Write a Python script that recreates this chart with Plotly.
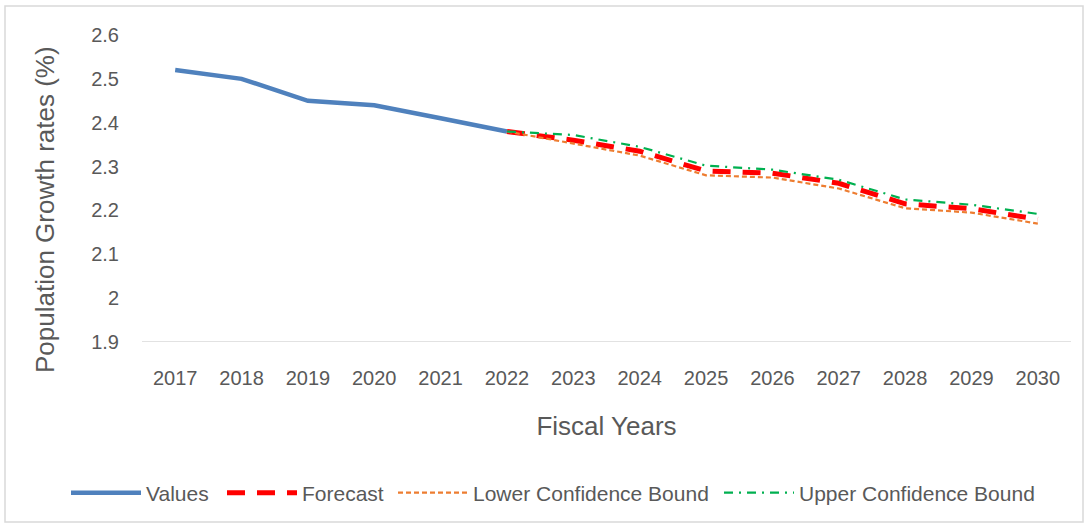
import plotly.graph_objects as go

years_hist = [2017, 2018, 2019, 2020, 2021, 2022]
values = [2.52, 2.50, 2.45, 2.44, 2.41, 2.38]

years_fc = [2022, 2023, 2024, 2025, 2026, 2027, 2028, 2029, 2030]
forecast = [2.38, 2.36, 2.335, 2.29, 2.285, 2.262, 2.215, 2.204, 2.18]
lower = [2.38, 2.352, 2.325, 2.28, 2.275, 2.25, 2.205, 2.195, 2.17]
upper = [2.38, 2.372, 2.345, 2.302, 2.293, 2.27, 2.225, 2.213, 2.192]

tick_years = list(range(2017, 2031))
y_ticks = [1.9, 2.0, 2.1, 2.2, 2.3, 2.4, 2.5, 2.6]
y_tick_text = ["1.9", "2", "2.1", "2.2", "2.3", "2.4", "2.5", "2.6"]

FONT = "Liberation Sans, Arial, sans-serif"
GRAY = "#595959"

fig = go.Figure()
fig.add_trace(go.Scatter(x=years_hist, y=values, mode="lines", name="Values",
                         line=dict(color="#4F81BD", width=4.5), legend="legend"))
fig.add_trace(go.Scatter(x=years_fc, y=forecast, mode="lines", name="Forecast",
                         line=dict(color="#FF0000", width=5, dash="18px,12px"),
                         legend="legend2"))
fig.add_trace(go.Scatter(x=years_fc, y=lower, mode="lines", name="Lower Confidence Bound",
                         line=dict(color="#ED7D31", width=2.2, dash="5px,3px"),
                         legend="legend3"))
fig.add_trace(go.Scatter(x=years_fc, y=upper, mode="lines", name="Upper Confidence Bound",
                         line=dict(color="#00B050", width=2.2, dash="9px,6px,2px,6px"),
                         legend="legend4"))

L, R, T, B = 142, 17, 35, 185
W, H = 1088, 527
pw, ph = W - L - R, H - T - B


def px_x(px):
    return (px - L) / pw


def px_y(py):
    return (T + ph - py) / ph


def leg(px_left):
    return dict(orientation="h", x=px_x(px_left), xanchor="left",
                y=px_y(493), yanchor="middle",
                font=dict(size=21, color=GRAY, family=FONT),
                itemwidth=70, bgcolor="rgba(0,0,0,0)", borderwidth=0)


fig.update_layout(
    width=W, height=H,
    margin=dict(l=L, r=R, t=T, b=B, autoexpand=False),
    paper_bgcolor="white", plot_bgcolor="white",
    font=dict(family=FONT, color=GRAY, size=20),
    showlegend=True,
    legend=leg(66),
    legend2=leg(222),
    legend3=leg(393),
    legend4=leg(719),
    xaxis=dict(range=[2016.5, 2030.5], tickmode="array", tickvals=tick_years,
               ticktext=[str(y) for y in tick_years], showgrid=False,
               zeroline=False, showline=False, ticks="", ticklabelstandoff=22,
               tickfont=dict(size=20, color=GRAY, family=FONT),
               title=dict(text="Fiscal Years", font=dict(size=26, color=GRAY, family=FONT),
                          standoff=28)),
    yaxis=dict(range=[1.9, 2.6], tickmode="array", tickvals=y_ticks, ticktext=y_tick_text,
               showgrid=False, zeroline=False, showline=False, ticks="",
               ticklabelstandoff=22,
               tickfont=dict(size=20, color=GRAY, family=FONT)),
    annotations=[
        dict(text="Population Growth rates (%)", xref="paper", yref="paper",
             x=px_x(45), y=px_y(210), xanchor="center", yanchor="middle",
             textangle=-90, showarrow=False,
             font=dict(size=26, color=GRAY, family=FONT)),
    ],
    shapes=[
        dict(type="line", xref="paper", yref="y", x0=0, x1=1, y0=1.9, y1=1.9,
             line=dict(color="#D9D9D9", width=1.5), layer="below"),
        dict(type="rect", xref="paper", yref="paper",
             x0=px_x(5), x1=px_x(1083), y0=px_y(522), y1=px_y(6),
             line=dict(color="#D9D9D9", width=1.5), layer="below"),
    ],
)

fig.write_html("out.html", config={"displayModeBar": False},
               post_script="document.body.style.margin='0';")
